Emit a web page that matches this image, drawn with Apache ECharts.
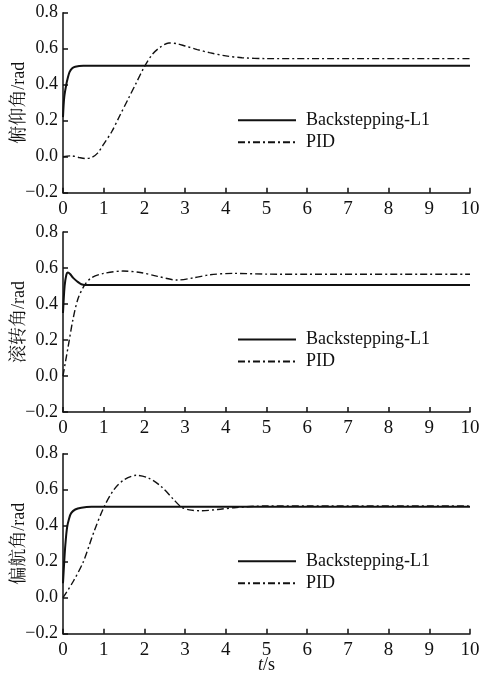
<!DOCTYPE html>
<html>
<head>
<meta charset="utf-8">
<script src="https://cdn.jsdelivr.net/npm/echarts@6/dist/echarts.min.js"></script>
<style>
html,body{margin:0;padding:0;background:#fff;}
#chart{width:480px;height:680px;}
</style>
</head>
<body>
<div id="chart"></div>
<script>
var seriesNames=['Backstepping-L1','PID'];
var yNames=['俯仰角/rad','滚转角/rad','偏航角/rad'];
var yTicks=[-0.2,0,0.2,0.4,0.6,0.8];
var xTicks=[0,1,2,3,4,5,6,7,8,9,10];

// 俯仰角
var pitchBsT=[0,0.03,0.08,0.12,0.16,0.22,0.3,0.5,1,10];
var pitchBsV=[0.22,0.33,0.4,0.44,0.47,0.49,0.5,0.505,0.505,0.505];
var pitchPidT=[0,0.2,0.4,0.55,0.7,0.85,1,1.2,1.4,1.6,1.8,2,2.2,2.4,2.6,2.8,3,3.3,3.6,4,4.4,5,6,10];
var pitchPidV=[0,0.005,-0.005,-0.01,-0.005,0.02,0.07,0.14,0.23,0.32,0.41,0.5,0.57,0.61,0.632,0.628,0.615,0.595,0.578,0.56,0.55,0.545,0.545,0.545];

// 滚转角
var rollBsT=[0,0.04,0.08,0.12,0.18,0.25,0.35,0.45,0.6,1,10];
var rollBsV=[0.35,0.5,0.56,0.575,0.565,0.545,0.525,0.51,0.505,0.505,0.505];
var rollPidT=[0,0.12,0.25,0.37,0.53,0.7,1,1.47,1.9,2.3,2.8,3.2,3.6,4.2,5,6,10];
var rollPidV=[0,0.155,0.32,0.43,0.505,0.546,0.57,0.583,0.575,0.555,0.533,0.545,0.562,0.57,0.566,0.565,0.565];

// 偏航角
var yawBsT=[0,0.03,0.06,0.1,0.15,0.2,0.3,0.45,0.7,10];
var yawBsV=[0.08,0.2,0.3,0.39,0.44,0.47,0.49,0.5,0.505,0.505];
var yawPidT=[0,0.25,0.5,0.75,1,1.25,1.5,1.8,2.1,2.4,2.7,2.9,3.1,3.4,3.8,4.2,5,6,10];
var yawPidV=[0,0.09,0.2,0.36,0.5,0.6,0.655,0.68,0.665,0.62,0.55,0.505,0.488,0.483,0.49,0.5,0.51,0.51,0.51];

var panels=[
  [pitchBsT,pitchBsV,pitchPidT,pitchPidV],
  [rollBsT,rollBsV,rollPidT,rollPidV],
  [yawBsT,yawBsV,yawPidT,yawPidV]
];

function zip(t,v){
  var out=[];
  for(var i=0;i<t.length;i++){out.push([t[i],v[i]]);}
  return out;
}

var font="'Liberation Serif','Times New Roman','Noto Serif CJK SC','Noto Sans CJK SC',serif";
var tops=[12.7,232,453.7];
var grids=[],xAxes=[],yAxes=[],legends=[],series=[];

tops.forEach(function(top,i){
  grids.push({left:63,width:407,top:top,height:180,outerBoundsMode:'none',containLabel:false});
  xAxes.push({
    type:'value',gridIndex:i,min:xTicks[0],max:xTicks[xTicks.length-1],interval:1,
    axisLine:{onZero:false,lineStyle:{color:'#111',width:1.5}},
    axisTick:{inside:true,length:5,lineStyle:{color:'#111',width:1.5}},
    axisLabel:{color:'#111',fontFamily:font,fontSize:19,margin:7},
    splitLine:{show:false},
    name:i===2?'{i|t}/s':'',nameLocation:'middle',nameGap:23,nameMoveOverlap:false,
    nameTextStyle:{color:'#111',fontFamily:font,fontSize:18,rich:{i:{fontStyle:'italic',fontFamily:font,fontSize:18,color:'#111'}}}
  });
  yAxes.push({
    type:'value',gridIndex:i,min:yTicks[0],max:yTicks[yTicks.length-1],interval:0.2,
    axisLine:{show:true,onZero:false,lineStyle:{color:'#111',width:1.5}},
    axisTick:{show:true,inside:true,length:5,lineStyle:{color:'#111',width:1.5}},
    axisLabel:{color:'#111',fontFamily:font,fontSize:18,margin:5,
      formatter:function(v){return v<0?'\u2212'+Math.abs(v).toFixed(1):v.toFixed(1);}},
    splitLine:{show:false},
    name:yNames[i],nameLocation:'middle',nameGap:35,nameMoveOverlap:false,
    nameTextStyle:{color:'#111',fontFamily:font,fontSize:18}
  });
  legends.push({
    orient:'vertical',left:237,top:top+98.5,padding:0,itemWidth:58,itemHeight:14,itemGap:4,
    data:seriesNames,selectedMode:false,
    itemStyle:{color:'rgba(0,0,0,0)',borderWidth:0,opacity:0},
    textStyle:{color:'#111',fontFamily:font,fontSize:18,padding:[0,0,0,5]}
  });
  var p=panels[i];
  series.push({
    name:seriesNames[0],type:'line',xAxisIndex:i,yAxisIndex:i,
    data:zip(p[0],p[1]),symbol:'none',smooth:0.3,
    lineStyle:{color:'#111',width:2},itemStyle:{color:'#111'}
  });
  series.push({
    name:seriesNames[1],type:'line',xAxisIndex:i,yAxisIndex:i,
    data:zip(p[2],p[3]),symbol:'none',smooth:0.3,
    lineStyle:{color:'#111',width:1.4,type:[7,3,2,3]},itemStyle:{color:'#111'}
  });
});

var chart=echarts.init(document.getElementById('chart'));
chart.setOption({
  backgroundColor:'#fff',
  animation:false,
  grid:grids,xAxis:xAxes,yAxis:yAxes,legend:legends,series:series
});
</script>
</body>
</html>
